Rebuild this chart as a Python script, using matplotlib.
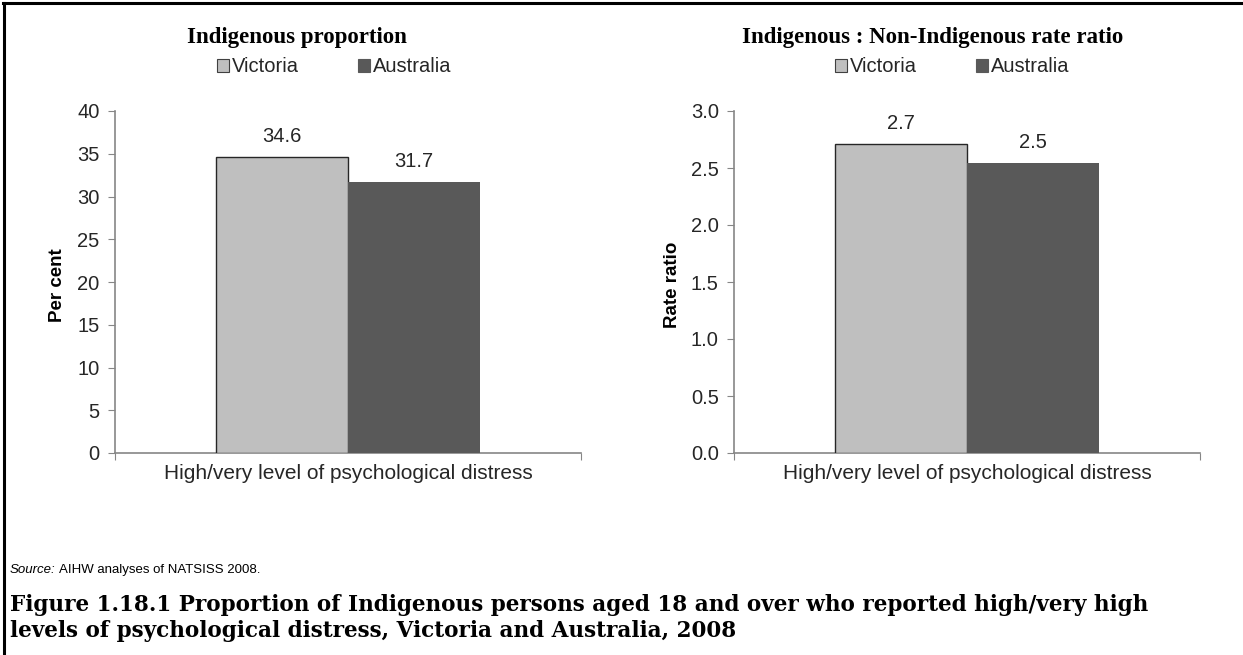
import matplotlib
matplotlib.use("Agg")
import matplotlib.pyplot as plt
from matplotlib.lines import Line2D
from matplotlib.patches import Patch
import numpy as np

category = ["High/very level of psychological distress"]
series = ["Victoria", "Australia"]
proportion = [34.6, 31.7]
rate_ratio = [2.71, 2.54]
colors = ["#BFBFBF", "#595959"]

W, H = 1243, 655
fig = plt.figure(figsize=(W / 100, H / 100), dpi=100)
fig.patch.set_facecolor("white")

SANS = ["Liberation Sans", "DejaVu Sans"]
SERIF = ["Liberation Serif", "DejaVu Serif"]
CAP_SERIF = ["DejaVu Serif"]
axis_gray = "#868686"
txt = "#262626"
FS = 14.5


def px(x0, y0, x1, y1):
    return [x0 / W, 1 - y1 / H, (x1 - x0) / W, (y1 - y0) / H]


def panel(rect, values, ymax, step, tick_fmt, title, ylabel, title_x, legend_x, ylabel_x):
    ax = fig.add_axes(px(*rect))
    width = 0.284
    offs = [-width / 2, width / 2]
    for i, (v, c) in enumerate(zip(values, colors)):
        ec = "#262626" if i == 0 else c
        ax.bar(offs[i], v, width=width, color=c, edgecolor=ec,
               linewidth=1.0 if i == 0 else 0, zorder=3)
        ax.annotate("{:.1f}".format(v), (offs[i], v), xytext=(0, 8), textcoords="offset points",
                    ha="center", va="bottom", fontsize=FS, family=SANS, color=txt)
    ax.set_xlim(-0.5, 0.5)
    ax.set_ylim(0, ymax)
    ticks = np.arange(0, ymax + step / 2, step)
    ax.set_yticks(ticks)
    ax.set_yticklabels([tick_fmt.format(t) for t in ticks], family=SANS, fontsize=FS, color=txt)
    ax.set_xticks([-0.5, 0.5])
    ax.set_xticklabels(["", ""])
    ax.set_xticks([0], minor=True)
    ax.set_xticklabels(category, minor=True, family=SANS, fontsize=15, color=txt)
    ax.tick_params(axis="x", which="minor", length=0, pad=8)
    ax.tick_params(axis="x", which="major", length=5, color=axis_gray, direction="out")
    ax.tick_params(axis="y", length=5, color=axis_gray, direction="out", pad=6)
    for s in ["top", "right"]:
        ax.spines[s].set_visible(False)
    for s in ["left", "bottom"]:
        ax.spines[s].set_color(axis_gray)
        ax.spines[s].set_linewidth(1.2)
    fig.text(title_x / W, 1 - 38 / H, title, ha="center", va="center", family=SERIF,
             fontweight="bold", fontsize=16.5)
    fig.text(ylabel_x / W, 1 - 285 / H, ylabel, ha="center", va="center", rotation=90,
             family=SANS, fontweight="bold", fontsize=13.5, color="#000000")
    handles = [Patch(facecolor=colors[0], edgecolor="#404040", linewidth=0.8),
               Patch(facecolor=colors[1], edgecolor=colors[1], linewidth=0.8)]
    fig.legend(handles, series, loc="center left", bbox_to_anchor=(legend_x / W, 1 - 67 / H),
               ncol=2, frameon=False, handlelength=0.6, handleheight=0.6, handletextpad=0.15,
               columnspacing=2.9, prop={"family": SANS, "size": FS}, borderaxespad=0,
               borderpad=0, labelcolor=txt)
    return ax


panel((115, 111, 581, 453), proportion, 40, 5, "{:.0f}", "Indigenous proportion", "Per cent",
      297, 217, 57)
panel((734, 111, 1200, 453), rate_ratio, 3.0, 0.5, "{:.1f}",
      "Indigenous : Non-Indigenous rate ratio", "Rate ratio", 933, 835, 673)

renderer = fig.canvas.get_renderer()
t_src = fig.text(10 / W, 1 - 570 / H, "Source:", ha="left", va="center", family=SANS,
                 style="italic", fontsize=9.5, color="#000000")
bb = t_src.get_window_extent(renderer)
fig.text((bb.x1 + 3) / W, 1 - 570 / H, "AIHW analyses of NATSISS 2008.", ha="left",
         va="center", family=SANS, fontsize=9.5, color="#000000")
fig.text(10 / W, 1 - 605 / H,
         "Figure 1.18.1 Proportion of Indigenous persons aged 18 and over who reported high/very high",
         ha="left", va="center", family=CAP_SERIF, fontweight="bold", fontsize=15.5)
fig.text(10 / W, 1 - 631 / H, "levels of psychological distress, Victoria and Australia, 2008",
         ha="left", va="center", family=CAP_SERIF, fontweight="bold", fontsize=15.5)

fig.add_artist(Line2D([3 / W, 1], [1 - 3 / H, 1 - 3 / H], color="black", linewidth=2.2,
                      transform=fig.transFigure))
fig.add_artist(Line2D([4 / W, 4 / W], [1 - 3 / H, 0], color="black", linewidth=2.2,
                      transform=fig.transFigure))

fig.savefig("out.png", dpi=100)
